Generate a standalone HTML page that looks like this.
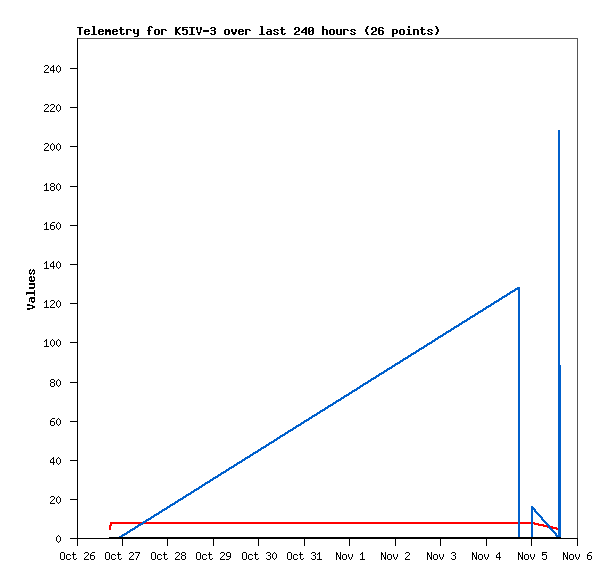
<!DOCTYPE html>
<html><head><meta charset="utf-8"><title>Telemetry for K5IV-3</title>
<style>html,body{margin:0;padding:0;background:#fff;width:615px;height:579px;overflow:hidden;font-family:"Liberation Sans",sans-serif}svg{display:block}</style>
</head><body><svg width="615" height="579" viewBox="0 0 615 579" shape-rendering="crispEdges">
<path fill="#000000" d="M92 26h3v1h-3zM149 26h3v1h-3zM260 26h3v1h-3zM322 26h2v3h-2zM367 26h2v1h-2zM408 26h2v2h-2zM435 26h2v1h-2zM77 27h6v1h-6zM93 27h2v7h-2zM120 27h2v2h-2zM148 27h2v3h-2zM151 27h2v1h-2zM175 27h2v2h-2zM179 27h2v1h-2zM182 27h6v1h-6zM189 27h6v1h-6zM196 27h2v3h-2zM200 27h2v3h-2zM211 27h4v1h-4zM261 27h2v7h-2zM281 27h2v2h-2zM295 27h4v1h-4zM305 27h2v1h-2zM309 27h4v1h-4zM366 27h2v2h-2zM372 27h4v1h-4zM379 27h4v1h-4zM421 27h2v2h-2zM436 27h2v2h-2zM79 28h2v7h-2zM178 28h2v1h-2zM182 28h2v1h-2zM191 28h2v6h-2zM210 28h2v1h-2zM214 28h2v2h-2zM294 28h2v2h-2zM298 28h2v3h-2zM304 28h3v1h-3zM308 28h2v3h-2zM312 28h2v2h-2zM371 28h2v2h-2zM375 28h2v3h-2zM378 28h2v2h-2zM382 28h2v1h-2zM85 29h4v1h-4zM99 29h4v1h-4zM105 29h2v1h-2zM108 29h2v1h-2zM113 29h4v1h-4zM119 29h5v1h-5zM126 29h5v1h-5zM133 29h2v4h-2zM137 29h2v4h-2zM155 29h4v1h-4zM161 29h5v1h-5zM175 29h4v1h-4zM182 29h5v1h-5zM225 29h4v1h-4zM231 29h2v3h-2zM235 29h2v3h-2zM239 29h4v1h-4zM245 29h5v1h-5zM267 29h4v1h-4zM274 29h4v1h-4zM280 29h5v1h-5zM303 29h4v1h-4zM322 29h5v1h-5zM330 29h4v1h-4zM336 29h2v5h-2zM340 29h2v5h-2zM343 29h5v1h-5zM351 29h4v1h-4zM365 29h2v3h-2zM392 29h5v1h-5zM400 29h4v1h-4zM407 29h3v1h-3zM413 29h5v1h-5zM420 29h5v1h-5zM428 29h4v1h-4zM437 29h2v3h-2zM84 30h2v1h-2zM88 30h2v1h-2zM98 30h2v1h-2zM102 30h2v1h-2zM105 30h6v2h-6zM112 30h2v1h-2zM116 30h2v1h-2zM120 30h2v4h-2zM126 30h2v5h-2zM130 30h2v1h-2zM147 30h4v1h-4zM154 30h2v4h-2zM158 30h2v4h-2zM161 30h2v5h-2zM165 30h2v1h-2zM175 30h3v2h-3zM182 30h2v1h-2zM186 30h2v4h-2zM197 30h1v2h-1zM200 30h1v2h-1zM203 30h6v2h-6zM211 30h4v1h-4zM224 30h2v4h-2zM228 30h2v4h-2zM238 30h2v1h-2zM242 30h2v1h-2zM245 30h2v5h-2zM249 30h2v1h-2zM270 30h2v1h-2zM273 30h2v1h-2zM277 30h2v1h-2zM281 30h2v4h-2zM302 30h2v1h-2zM305 30h2v2h-2zM311 30h3v1h-3zM322 30h2v5h-2zM326 30h2v5h-2zM329 30h2v4h-2zM333 30h2v4h-2zM343 30h2v5h-2zM347 30h2v1h-2zM350 30h2v1h-2zM354 30h2v1h-2zM378 30h5v1h-5zM392 30h2v3h-2zM396 30h2v3h-2zM399 30h2v4h-2zM403 30h2v4h-2zM408 30h2v4h-2zM413 30h2v5h-2zM417 30h2v5h-2zM421 30h2v4h-2zM427 30h2v1h-2zM431 30h2v1h-2zM84 31h6v1h-6zM98 31h6v1h-6zM112 31h6v1h-6zM148 31h2v4h-2zM214 31h2v3h-2zM238 31h6v1h-6zM267 31h5v1h-5zM274 31h2v1h-2zM296 31h3v1h-3zM301 31h2v1h-2zM308 31h3v1h-3zM312 31h2v3h-2zM351 31h2v1h-2zM373 31h3v1h-3zM378 31h2v3h-2zM382 31h2v3h-2zM428 31h2v1h-2zM84 32h2v2h-2zM98 32h2v2h-2zM105 32h2v3h-2zM109 32h2v3h-2zM112 32h2v2h-2zM175 32h4v1h-4zM197 32h4v1h-4zM232 32h4v2h-4zM238 32h2v2h-2zM266 32h2v2h-2zM270 32h2v2h-2zM276 32h2v1h-2zM295 32h2v1h-2zM301 32h6v1h-6zM308 32h2v2h-2zM353 32h2v1h-2zM366 32h2v2h-2zM372 32h2v1h-2zM430 32h2v1h-2zM436 32h2v2h-2zM88 33h2v1h-2zM102 33h2v1h-2zM116 33h2v1h-2zM123 33h2v1h-2zM134 33h5v1h-5zM175 33h2v2h-2zM178 33h2v1h-2zM182 33h2v1h-2zM198 33h2v2h-2zM210 33h2v1h-2zM242 33h2v1h-2zM273 33h2v1h-2zM277 33h2v1h-2zM284 33h2v1h-2zM294 33h2v1h-2zM305 33h2v2h-2zM350 33h2v1h-2zM354 33h2v1h-2zM371 33h2v1h-2zM392 33h5v1h-5zM424 33h2v1h-2zM427 33h2v1h-2zM431 33h2v1h-2zM85 34h4v1h-4zM91 34h6v1h-6zM99 34h4v1h-4zM113 34h4v1h-4zM121 34h3v1h-3zM137 34h2v2h-2zM155 34h4v1h-4zM179 34h2v1h-2zM183 34h4v1h-4zM189 34h6v1h-6zM211 34h4v1h-4zM225 34h4v1h-4zM233 34h2v1h-2zM239 34h4v1h-4zM259 34h6v1h-6zM267 34h5v1h-5zM274 34h4v1h-4zM282 34h3v1h-3zM294 34h6v1h-6zM309 34h4v1h-4zM330 34h4v1h-4zM337 34h5v1h-5zM351 34h4v1h-4zM367 34h2v1h-2zM371 34h6v1h-6zM379 34h4v1h-4zM392 34h2v3h-2zM400 34h4v1h-4zM406 34h6v1h-6zM422 34h3v1h-3zM428 34h4v1h-4zM435 34h2v1h-2zM134 36h4v1h-4zM77 38h1v30h-1zM45 65h3v1h-3zM53 65h1v1h-1zM58 65h1v1h-1zM44 66h1v1h-1zM48 66h1v2h-1zM52 66h2v1h-2zM57 66h1v1h-1zM59 66h1v1h-1zM51 67h1v1h-1zM53 67h1v3h-1zM56 67h1v4h-1zM60 67h1v4h-1zM47 68h1v1h-1zM50 68h1v2h-1zM70 68h8v1h-8zM46 69h1v1h-1zM77 69h1v38h-1zM45 70h1v1h-1zM50 70h5v1h-5zM44 71h1v1h-1zM53 71h1v2h-1zM57 71h1v1h-1zM59 71h1v1h-1zM44 72h5v1h-5zM58 72h1v1h-1zM45 104h3v1h-3zM51 104h3v1h-3zM58 104h1v1h-1zM44 105h1v1h-1zM48 105h1v2h-1zM50 105h1v1h-1zM54 105h1v2h-1zM57 105h1v1h-1zM59 105h1v1h-1zM56 106h1v4h-1zM60 106h1v4h-1zM47 107h1v1h-1zM53 107h1v1h-1zM70 107h8v1h-8zM46 108h1v1h-1zM52 108h1v1h-1zM77 108h1v38h-1zM45 109h1v1h-1zM51 109h1v1h-1zM44 110h1v1h-1zM50 110h1v1h-1zM57 110h1v1h-1zM59 110h1v1h-1zM44 111h5v1h-5zM50 111h5v1h-5zM58 111h1v1h-1zM45 143h3v1h-3zM52 143h1v1h-1zM58 143h1v1h-1zM44 144h1v1h-1zM48 144h1v2h-1zM51 144h1v1h-1zM53 144h1v1h-1zM57 144h1v1h-1zM59 144h1v1h-1zM50 145h1v4h-1zM54 145h1v4h-1zM56 145h1v4h-1zM60 145h1v4h-1zM47 146h1v1h-1zM70 146h8v1h-8zM46 147h1v1h-1zM77 147h1v39h-1zM45 148h1v1h-1zM44 149h1v1h-1zM51 149h1v1h-1zM53 149h1v1h-1zM57 149h1v1h-1zM59 149h1v1h-1zM44 150h5v1h-5zM52 150h1v1h-1zM58 150h1v1h-1zM46 183h1v1h-1zM51 183h3v1h-3zM58 183h1v1h-1zM45 184h2v1h-2zM50 184h1v2h-1zM54 184h1v2h-1zM57 184h1v1h-1zM59 184h1v1h-1zM44 185h1v1h-1zM46 185h1v5h-1zM56 185h1v4h-1zM60 185h1v4h-1zM51 186h3v1h-3zM70 186h8v1h-8zM50 187h1v3h-1zM54 187h1v3h-1zM77 187h1v38h-1zM57 189h1v1h-1zM59 189h1v1h-1zM44 190h5v1h-5zM51 190h3v1h-3zM58 190h1v1h-1zM46 222h1v1h-1zM52 222h3v1h-3zM58 222h1v1h-1zM45 223h2v1h-2zM51 223h1v1h-1zM57 223h1v1h-1zM59 223h1v1h-1zM44 224h1v1h-1zM46 224h1v5h-1zM50 224h1v1h-1zM56 224h1v4h-1zM60 224h1v4h-1zM50 225h4v1h-4zM70 225h8v1h-8zM50 226h1v3h-1zM54 226h1v3h-1zM77 226h1v38h-1zM57 228h1v1h-1zM59 228h1v1h-1zM44 229h5v1h-5zM51 229h3v1h-3zM58 229h1v1h-1zM46 261h1v1h-1zM53 261h1v1h-1zM58 261h1v1h-1zM45 262h2v1h-2zM52 262h2v1h-2zM57 262h1v1h-1zM59 262h1v1h-1zM44 263h1v1h-1zM46 263h1v5h-1zM51 263h1v1h-1zM53 263h1v3h-1zM56 263h1v4h-1zM60 263h1v4h-1zM50 264h1v2h-1zM70 264h8v1h-8zM77 265h1v38h-1zM50 266h5v1h-5zM53 267h1v2h-1zM57 267h1v1h-1zM59 267h1v1h-1zM44 268h5v1h-5zM58 268h1v1h-1zM30 269h1v1h-1zM33 269h1v1h-1zM29 270h2v1h-2zM32 270h3v1h-3zM29 271h1v2h-1zM32 271h1v1h-1zM34 271h1v2h-1zM31 272h1v1h-1zM29 273h3v1h-3zM33 273h2v1h-2zM30 274h1v1h-1zM33 274h1v1h-1zM30 276h2v1h-2zM33 276h1v1h-1zM29 277h3v1h-3zM33 277h2v1h-2zM29 278h1v2h-1zM31 278h1v2h-1zM34 278h1v2h-1zM29 280h6v1h-6zM30 281h4v1h-4zM29 283h6v2h-6zM34 285h1v2h-1zM29 287h6v1h-6zM29 288h5v1h-5zM34 290h1v2h-1zM26 292h9v2h-9zM26 294h1v1h-1zM34 294h1v2h-1zM30 297h5v1h-5zM29 298h6v1h-6zM29 299h1v3h-1zM31 299h1v2h-1zM34 299h1v2h-1zM46 300h1v1h-1zM51 300h3v1h-3zM58 300h1v1h-1zM31 301h4v1h-4zM45 301h2v1h-2zM50 301h1v1h-1zM54 301h1v2h-1zM57 301h1v1h-1zM59 301h1v1h-1zM32 302h2v1h-2zM44 302h1v1h-1zM46 302h1v5h-1zM56 302h1v4h-1zM60 302h1v4h-1zM53 303h1v1h-1zM70 303h8v1h-8zM27 304h3v1h-3zM52 304h1v1h-1zM77 304h1v38h-1zM27 305h6v1h-6zM51 305h1v1h-1zM32 306h3v2h-3zM50 306h1v1h-1zM57 306h1v1h-1zM59 306h1v1h-1zM44 307h5v1h-5zM50 307h5v1h-5zM58 307h1v1h-1zM27 308h6v1h-6zM27 309h3v1h-3zM46 339h1v1h-1zM52 339h1v1h-1zM58 339h1v1h-1zM45 340h2v1h-2zM51 340h1v1h-1zM53 340h1v1h-1zM57 340h1v1h-1zM59 340h1v1h-1zM44 341h1v1h-1zM46 341h1v5h-1zM50 341h1v4h-1zM54 341h1v4h-1zM56 341h1v4h-1zM60 341h1v4h-1zM70 342h8v1h-8zM77 343h1v39h-1zM51 345h1v1h-1zM53 345h1v1h-1zM57 345h1v1h-1zM59 345h1v1h-1zM44 346h5v1h-5zM52 346h1v1h-1zM58 346h1v1h-1zM51 379h3v1h-3zM58 379h1v1h-1zM50 380h1v2h-1zM54 380h1v2h-1zM57 380h1v1h-1zM59 380h1v1h-1zM56 381h1v4h-1zM60 381h1v4h-1zM51 382h3v1h-3zM70 382h8v1h-8zM50 383h1v3h-1zM54 383h1v3h-1zM77 383h1v38h-1zM57 385h1v1h-1zM59 385h1v1h-1zM51 386h3v1h-3zM58 386h1v1h-1zM52 418h3v1h-3zM58 418h1v1h-1zM51 419h1v1h-1zM57 419h1v1h-1zM59 419h1v1h-1zM50 420h1v1h-1zM56 420h1v4h-1zM60 420h1v4h-1zM50 421h4v1h-4zM70 421h8v1h-8zM50 422h1v3h-1zM54 422h1v3h-1zM77 422h1v38h-1zM57 424h1v1h-1zM59 424h1v1h-1zM51 425h3v1h-3zM58 425h1v1h-1zM53 457h1v1h-1zM58 457h1v1h-1zM52 458h2v1h-2zM57 458h1v1h-1zM59 458h1v1h-1zM51 459h1v1h-1zM53 459h1v3h-1zM56 459h1v4h-1zM60 459h1v4h-1zM50 460h1v2h-1zM70 460h8v1h-8zM77 461h1v38h-1zM50 462h5v1h-5zM53 463h1v2h-1zM57 463h1v1h-1zM59 463h1v1h-1zM58 464h1v1h-1zM51 496h3v1h-3zM58 496h1v1h-1zM50 497h1v1h-1zM54 497h1v2h-1zM57 497h1v1h-1zM59 497h1v1h-1zM56 498h1v4h-1zM60 498h1v4h-1zM53 499h1v1h-1zM70 499h8v1h-8zM52 500h1v1h-1zM77 500h1v38h-1zM51 501h1v1h-1zM50 502h1v1h-1zM57 502h1v1h-1zM59 502h1v1h-1zM50 503h5v1h-5zM58 503h1v1h-1zM58 535h1v1h-1zM57 536h1v1h-1zM59 536h1v1h-1zM56 537h1v4h-1zM60 537h1v4h-1zM109 537h452v1h-452zM70 538h508v1h-508zM77 539h1v7h-1zM122 539h1v7h-1zM167 539h1v7h-1zM213 539h1v7h-1zM258 539h1v7h-1zM304 539h1v7h-1zM349 539h1v7h-1zM395 539h1v7h-1zM440 539h1v7h-1zM486 539h1v7h-1zM531 539h1v7h-1zM577 539h1v7h-1zM57 541h1v1h-1zM59 541h1v1h-1zM58 542h1v1h-1zM61 552h3v1h-3zM73 552h1v2h-1zM85 552h3v1h-3zM92 552h3v1h-3zM106 552h3v1h-3zM118 552h1v2h-1zM130 552h3v1h-3zM135 552h5v1h-5zM152 552h3v1h-3zM164 552h1v2h-1zM176 552h3v1h-3zM182 552h3v1h-3zM197 552h3v1h-3zM209 552h1v2h-1zM221 552h3v1h-3zM227 552h3v1h-3zM243 552h3v1h-3zM255 552h1v2h-1zM267 552h3v1h-3zM274 552h1v1h-1zM288 552h3v1h-3zM300 552h1v2h-1zM312 552h3v1h-3zM319 552h1v1h-1zM336 552h1v1h-1zM340 552h1v5h-1zM362 552h1v1h-1zM381 552h1v1h-1zM385 552h1v5h-1zM406 552h3v1h-3zM427 552h1v1h-1zM431 552h1v5h-1zM452 552h3v1h-3zM472 552h1v1h-1zM476 552h1v5h-1zM499 552h1v1h-1zM518 552h1v1h-1zM522 552h1v5h-1zM542 552h5v1h-5zM563 552h1v1h-1zM567 552h1v5h-1zM589 552h3v1h-3zM60 553h1v6h-1zM64 553h1v6h-1zM84 553h1v1h-1zM88 553h1v2h-1zM91 553h1v1h-1zM105 553h1v6h-1zM109 553h1v6h-1zM129 553h1v1h-1zM133 553h1v2h-1zM139 553h1v1h-1zM151 553h1v6h-1zM155 553h1v6h-1zM175 553h1v1h-1zM179 553h1v2h-1zM181 553h1v2h-1zM185 553h1v2h-1zM196 553h1v6h-1zM200 553h1v6h-1zM220 553h1v1h-1zM224 553h1v2h-1zM226 553h1v3h-1zM230 553h1v3h-1zM242 553h1v6h-1zM246 553h1v6h-1zM266 553h1v1h-1zM270 553h1v2h-1zM273 553h1v1h-1zM275 553h1v1h-1zM287 553h1v6h-1zM291 553h1v6h-1zM311 553h1v1h-1zM315 553h1v2h-1zM318 553h2v1h-2zM336 553h2v2h-2zM361 553h2v1h-2zM381 553h2v2h-2zM405 553h1v1h-1zM409 553h1v2h-1zM427 553h2v2h-2zM451 553h1v1h-1zM455 553h1v2h-1zM472 553h2v2h-2zM498 553h2v1h-2zM518 553h2v2h-2zM542 553h1v1h-1zM563 553h2v2h-2zM588 553h1v1h-1zM67 554h3v1h-3zM72 554h4v1h-4zM90 554h1v1h-1zM112 554h3v1h-3zM117 554h4v1h-4zM138 554h1v2h-1zM158 554h3v1h-3zM163 554h4v1h-4zM203 554h3v1h-3zM208 554h4v1h-4zM249 554h3v1h-3zM254 554h4v1h-4zM272 554h1v4h-1zM276 554h1v4h-1zM294 554h3v1h-3zM299 554h4v1h-4zM317 554h1v1h-1zM319 554h1v5h-1zM343 554h3v1h-3zM348 554h1v3h-1zM352 554h1v3h-1zM360 554h1v1h-1zM362 554h1v5h-1zM388 554h3v1h-3zM393 554h1v3h-1zM397 554h1v3h-1zM434 554h3v1h-3zM439 554h1v3h-1zM443 554h1v3h-1zM479 554h3v1h-3zM484 554h1v3h-1zM488 554h1v3h-1zM497 554h1v1h-1zM499 554h1v3h-1zM525 554h3v1h-3zM530 554h1v3h-1zM534 554h1v3h-1zM542 554h4v1h-4zM570 554h3v1h-3zM575 554h1v3h-1zM579 554h1v3h-1zM587 554h1v1h-1zM66 555h1v4h-1zM70 555h1v1h-1zM73 555h1v4h-1zM87 555h1v1h-1zM90 555h4v1h-4zM111 555h1v4h-1zM115 555h1v1h-1zM118 555h1v4h-1zM132 555h1v1h-1zM157 555h1v4h-1zM161 555h1v1h-1zM164 555h1v4h-1zM178 555h1v1h-1zM182 555h3v1h-3zM202 555h1v4h-1zM206 555h1v1h-1zM209 555h1v4h-1zM223 555h1v1h-1zM248 555h1v4h-1zM252 555h1v1h-1zM255 555h1v4h-1zM268 555h2v1h-2zM293 555h1v4h-1zM297 555h1v1h-1zM300 555h1v4h-1zM313 555h2v1h-2zM336 555h1v5h-1zM338 555h1v2h-1zM342 555h1v4h-1zM346 555h1v4h-1zM381 555h1v5h-1zM383 555h1v2h-1zM387 555h1v4h-1zM391 555h1v4h-1zM408 555h1v1h-1zM427 555h1v5h-1zM429 555h1v2h-1zM433 555h1v4h-1zM437 555h1v4h-1zM453 555h2v1h-2zM472 555h1v5h-1zM474 555h1v2h-1zM478 555h1v4h-1zM482 555h1v4h-1zM496 555h1v2h-1zM518 555h1v5h-1zM520 555h1v2h-1zM524 555h1v4h-1zM528 555h1v4h-1zM542 555h1v1h-1zM546 555h1v4h-1zM563 555h1v5h-1zM565 555h1v2h-1zM569 555h1v4h-1zM573 555h1v4h-1zM587 555h4v1h-4zM86 556h1v1h-1zM90 556h1v3h-1zM94 556h1v3h-1zM131 556h1v1h-1zM137 556h1v2h-1zM177 556h1v1h-1zM181 556h1v3h-1zM185 556h1v3h-1zM222 556h1v1h-1zM227 556h4v1h-4zM270 556h1v3h-1zM315 556h1v3h-1zM407 556h1v1h-1zM455 556h1v3h-1zM587 556h1v3h-1zM591 556h1v3h-1zM85 557h1v1h-1zM130 557h1v1h-1zM176 557h1v1h-1zM221 557h1v1h-1zM230 557h1v1h-1zM339 557h2v2h-2zM349 557h1v2h-1zM351 557h1v2h-1zM384 557h2v2h-2zM394 557h1v2h-1zM396 557h1v2h-1zM406 557h1v1h-1zM430 557h2v2h-2zM440 557h1v2h-1zM442 557h1v2h-1zM475 557h2v2h-2zM485 557h1v2h-1zM487 557h1v2h-1zM496 557h5v1h-5zM521 557h2v2h-2zM531 557h1v2h-1zM533 557h1v2h-1zM566 557h2v2h-2zM576 557h1v2h-1zM578 557h1v2h-1zM70 558h1v1h-1zM76 558h1v1h-1zM84 558h1v1h-1zM115 558h1v1h-1zM121 558h1v1h-1zM129 558h1v1h-1zM136 558h1v2h-1zM161 558h1v1h-1zM167 558h1v1h-1zM175 558h1v1h-1zM206 558h1v1h-1zM212 558h1v1h-1zM220 558h1v1h-1zM229 558h1v1h-1zM252 558h1v1h-1zM258 558h1v1h-1zM266 558h1v1h-1zM273 558h1v1h-1zM275 558h1v1h-1zM297 558h1v1h-1zM303 558h1v1h-1zM311 558h1v1h-1zM405 558h1v1h-1zM451 558h1v1h-1zM499 558h1v2h-1zM542 558h1v1h-1zM61 559h3v1h-3zM67 559h3v1h-3zM74 559h2v1h-2zM84 559h5v1h-5zM91 559h3v1h-3zM106 559h3v1h-3zM112 559h3v1h-3zM119 559h2v1h-2zM129 559h5v1h-5zM152 559h3v1h-3zM158 559h3v1h-3zM165 559h2v1h-2zM175 559h5v1h-5zM182 559h3v1h-3zM197 559h3v1h-3zM203 559h3v1h-3zM210 559h2v1h-2zM220 559h5v1h-5zM226 559h3v1h-3zM243 559h3v1h-3zM249 559h3v1h-3zM256 559h2v1h-2zM267 559h3v1h-3zM274 559h1v1h-1zM288 559h3v1h-3zM294 559h3v1h-3zM301 559h2v1h-2zM312 559h3v1h-3zM317 559h5v1h-5zM340 559h1v1h-1zM343 559h3v1h-3zM350 559h1v1h-1zM360 559h5v1h-5zM385 559h1v1h-1zM388 559h3v1h-3zM395 559h1v1h-1zM405 559h5v1h-5zM431 559h1v1h-1zM434 559h3v1h-3zM441 559h1v1h-1zM452 559h3v1h-3zM476 559h1v1h-1zM479 559h3v1h-3zM486 559h1v1h-1zM522 559h1v1h-1zM525 559h3v1h-3zM532 559h1v1h-1zM543 559h3v1h-3zM567 559h1v1h-1zM570 559h3v1h-3zM577 559h1v1h-1zM588 559h3v1h-3z"/>
<path fill="#555555" d="M78 38h500v1h-500zM577 39h1v499h-1z"/>
<path fill="#0060cc" d="M558 130h2v235h-2zM517 287h3v1h-3zM515 288h5v1h-5zM514 289h6v1h-6zM512 290h4v1h-4zM518 290h2v247h-2zM510 291h5v1h-5zM509 292h4v1h-4zM507 293h4v1h-4zM506 294h4v1h-4zM504 295h4v1h-4zM502 296h5v1h-5zM501 297h4v1h-4zM499 298h4v1h-4zM498 299h4v1h-4zM496 300h4v1h-4zM494 301h5v1h-5zM493 302h4v1h-4zM491 303h4v1h-4zM490 304h4v1h-4zM488 305h4v1h-4zM486 306h5v1h-5zM485 307h4v1h-4zM483 308h4v1h-4zM482 309h4v1h-4zM480 310h4v1h-4zM478 311h5v1h-5zM477 312h4v1h-4zM475 313h4v1h-4zM474 314h4v1h-4zM472 315h4v1h-4zM470 316h5v1h-5zM469 317h4v1h-4zM467 318h4v1h-4zM466 319h4v1h-4zM464 320h4v1h-4zM462 321h5v1h-5zM461 322h4v1h-4zM459 323h4v1h-4zM458 324h4v1h-4zM456 325h4v1h-4zM454 326h5v1h-5zM453 327h4v1h-4zM451 328h4v1h-4zM450 329h4v1h-4zM448 330h4v1h-4zM446 331h5v1h-5zM445 332h4v1h-4zM443 333h4v1h-4zM442 334h4v1h-4zM440 335h4v1h-4zM438 336h5v1h-5zM437 337h4v1h-4zM435 338h4v1h-4zM434 339h4v1h-4zM432 340h4v1h-4zM431 341h4v1h-4zM429 342h4v1h-4zM427 343h5v1h-5zM426 344h4v1h-4zM424 345h4v1h-4zM423 346h4v1h-4zM421 347h4v1h-4zM419 348h5v1h-5zM418 349h4v1h-4zM416 350h4v1h-4zM415 351h4v1h-4zM413 352h4v1h-4zM411 353h5v1h-5zM410 354h4v1h-4zM408 355h4v1h-4zM407 356h4v1h-4zM405 357h4v1h-4zM403 358h5v1h-5zM402 359h4v1h-4zM400 360h4v1h-4zM399 361h4v1h-4zM397 362h4v1h-4zM395 363h5v1h-5zM394 364h4v1h-4zM392 365h4v1h-4zM558 365h3v170h-3zM391 366h4v1h-4zM389 367h4v1h-4zM387 368h5v1h-5zM386 369h4v1h-4zM384 370h4v1h-4zM383 371h4v1h-4zM381 372h4v1h-4zM379 373h5v1h-5zM378 374h4v1h-4zM376 375h4v1h-4zM375 376h4v1h-4zM373 377h4v1h-4zM371 378h5v1h-5zM370 379h4v1h-4zM368 380h4v1h-4zM367 381h4v1h-4zM365 382h4v1h-4zM363 383h5v1h-5zM362 384h4v1h-4zM360 385h4v1h-4zM359 386h4v1h-4zM357 387h4v1h-4zM356 388h4v1h-4zM354 389h4v1h-4zM352 390h5v1h-5zM351 391h4v1h-4zM349 392h4v1h-4zM348 393h4v1h-4zM346 394h4v1h-4zM344 395h5v1h-5zM343 396h4v1h-4zM341 397h4v1h-4zM340 398h4v1h-4zM338 399h4v1h-4zM336 400h5v1h-5zM335 401h4v1h-4zM333 402h4v1h-4zM332 403h4v1h-4zM330 404h4v1h-4zM328 405h5v1h-5zM327 406h4v1h-4zM325 407h4v1h-4zM324 408h4v1h-4zM322 409h4v1h-4zM320 410h5v1h-5zM319 411h4v1h-4zM317 412h4v1h-4zM316 413h4v1h-4zM314 414h4v1h-4zM312 415h5v1h-5zM311 416h4v1h-4zM309 417h4v1h-4zM308 418h4v1h-4zM306 419h4v1h-4zM304 420h5v1h-5zM303 421h4v1h-4zM301 422h4v1h-4zM300 423h4v1h-4zM298 424h4v1h-4zM296 425h5v1h-5zM295 426h4v1h-4zM293 427h4v1h-4zM292 428h4v1h-4zM290 429h4v1h-4zM288 430h5v1h-5zM287 431h4v1h-4zM285 432h4v1h-4zM284 433h4v1h-4zM282 434h4v1h-4zM280 435h5v1h-5zM279 436h4v1h-4zM277 437h4v1h-4zM276 438h4v1h-4zM274 439h4v1h-4zM273 440h4v1h-4zM271 441h4v1h-4zM269 442h5v1h-5zM268 443h4v1h-4zM266 444h4v1h-4zM265 445h4v1h-4zM263 446h4v1h-4zM261 447h5v1h-5zM260 448h4v1h-4zM258 449h4v1h-4zM257 450h4v1h-4zM255 451h4v1h-4zM253 452h5v1h-5zM252 453h4v1h-4zM250 454h4v1h-4zM249 455h4v1h-4zM247 456h4v1h-4zM245 457h5v1h-5zM244 458h4v1h-4zM242 459h4v1h-4zM241 460h4v1h-4zM239 461h4v1h-4zM237 462h5v1h-5zM236 463h4v1h-4zM234 464h4v1h-4zM233 465h4v1h-4zM231 466h4v1h-4zM229 467h5v1h-5zM228 468h4v1h-4zM226 469h4v1h-4zM225 470h4v1h-4zM223 471h4v1h-4zM221 472h5v1h-5zM220 473h4v1h-4zM218 474h4v1h-4zM217 475h4v1h-4zM215 476h4v1h-4zM213 477h5v1h-5zM212 478h4v1h-4zM210 479h4v1h-4zM209 480h4v1h-4zM207 481h4v1h-4zM205 482h5v1h-5zM204 483h4v1h-4zM202 484h4v1h-4zM201 485h4v1h-4zM199 486h4v1h-4zM198 487h4v1h-4zM196 488h4v1h-4zM194 489h5v1h-5zM193 490h4v1h-4zM191 491h4v1h-4zM190 492h4v1h-4zM188 493h4v1h-4zM186 494h5v1h-5zM185 495h4v1h-4zM183 496h4v1h-4zM182 497h4v1h-4zM180 498h4v1h-4zM178 499h5v1h-5zM177 500h4v1h-4zM175 501h4v1h-4zM174 502h4v1h-4zM172 503h4v1h-4zM170 504h5v1h-5zM169 505h4v1h-4zM167 506h4v1h-4zM531 506h2v1h-2zM166 507h4v1h-4zM531 507h3v1h-3zM164 508h4v1h-4zM531 508h4v1h-4zM162 509h5v1h-5zM531 509h5v1h-5zM161 510h4v1h-4zM531 510h2v27h-2zM534 510h2v1h-2zM159 511h4v1h-4zM534 511h3v1h-3zM158 512h4v1h-4zM535 512h3v1h-3zM156 513h4v1h-4zM536 513h3v1h-3zM154 514h5v1h-5zM537 514h3v1h-3zM153 515h4v1h-4zM538 515h3v1h-3zM151 516h4v1h-4zM539 516h3v1h-3zM150 517h4v1h-4zM540 517h3v1h-3zM148 518h4v1h-4zM541 518h2v1h-2zM146 519h5v1h-5zM541 519h3v1h-3zM145 520h4v1h-4zM542 520h3v1h-3zM143 521h4v1h-4zM543 521h3v1h-3zM142 522h4v1h-4zM544 522h3v1h-3zM140 523h4v1h-4zM545 523h3v1h-3zM138 524h5v1h-5zM546 524h3v1h-3zM137 525h4v1h-4zM547 525h3v1h-3zM135 526h4v1h-4zM548 526h2v1h-2zM134 527h4v1h-4zM548 527h3v1h-3zM132 528h4v1h-4zM549 528h3v1h-3zM130 529h5v1h-5zM550 529h3v1h-3zM129 530h4v1h-4zM551 530h3v1h-3zM127 531h4v1h-4zM552 531h3v1h-3zM126 532h4v1h-4zM553 532h3v1h-3zM124 533h4v1h-4zM554 533h3v1h-3zM122 534h5v1h-5zM555 534h2v1h-2zM121 535h4v1h-4zM555 535h6v1h-6zM119 536h4v1h-4zM556 536h5v1h-5z"/>
<path fill="#ff0000" d="M110 522h32v1h-32zM146 522h372v1h-372zM520 522h11v2h-11zM533 522h2v1h-2zM110 523h30v1h-30zM144 523h374v1h-374zM533 523h6v1h-6zM110 524h2v1h-2zM534 524h10v1h-10zM109 525h3v1h-3zM538 525h9v1h-9zM109 526h2v4h-2zM543 526h5v1h-5zM550 526h3v1h-3zM547 527h1v1h-1zM551 527h6v1h-6zM552 528h6v1h-6zM556 529h2v1h-2z"/>
</svg></body></html>
